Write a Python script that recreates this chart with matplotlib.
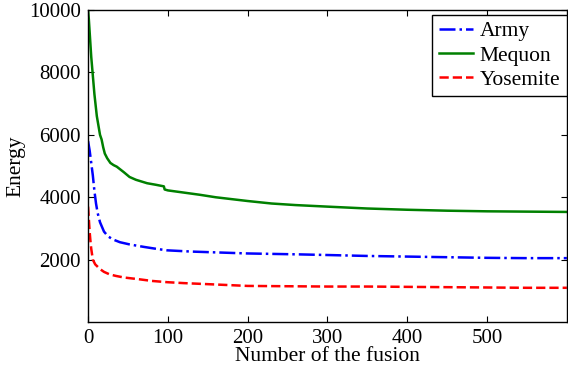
import numpy as np
import matplotlib.pyplot as plt

plt.rcParams['font.family'] = ['Liberation Serif', 'DejaVu Serif']

# fusion index vs energy
army_x = [0, 2, 4, 6, 8, 10, 12, 15, 20, 25, 31, 40, 52, 70, 85, 99, 130, 165, 200, 265, 300, 350, 400, 450, 500, 550, 600]
army_y = [5800, 5500, 5100, 4700, 4200, 3800, 3500, 3200, 2900, 2750, 2650, 2560, 2490, 2410, 2350, 2300, 2260, 2230, 2200, 2170, 2150, 2120, 2100, 2080, 2060, 2050, 2050]

mequon_x = [0, 1, 2, 3, 4, 5, 6, 8, 11, 13, 15, 17, 19, 21, 24, 28, 32, 36, 40, 45, 52, 60, 74, 85, 95, 96, 100, 120, 140, 160, 180, 200, 230, 260, 300, 350, 400, 450, 500, 550, 600]
mequon_y = [10000, 9700, 9300, 8900, 8500, 8200, 7900, 7300, 6600, 6300, 6000, 5850, 5600, 5400, 5250, 5100, 5030, 4980, 4900, 4800, 4650, 4560, 4450, 4400, 4350, 4250, 4220, 4150, 4080, 4000, 3940, 3880, 3800, 3750, 3700, 3640, 3600, 3570, 3550, 3540, 3530]

yosemite_x = [0, 1, 2, 3, 4, 6, 9, 15, 20, 27, 35, 45, 65, 80, 99, 120, 156, 200, 250, 300, 350, 400, 450, 500, 550, 600]
yosemite_y = [3700, 3300, 2900, 2600, 2350, 2000, 1850, 1700, 1610, 1530, 1480, 1430, 1370, 1320, 1280, 1250, 1210, 1160, 1150, 1140, 1140, 1130, 1120, 1110, 1100, 1100]

fig = plt.figure(figsize=(5.68, 3.69), dpi=100)
ax = fig.add_axes([0.155, 0.127, 0.843, 0.846])

ax.plot(army_x, army_y, '-.', color='blue', lw=1.8, label='Army')
ax.plot(mequon_x, mequon_y, '-', color='green', lw=1.8, label='Mequon')
ax.plot(yosemite_x, yosemite_y, '--', color='red', lw=1.8, label='Yosemite')

ax.set_xlim(0, 600)
ax.set_ylim(0, 10000)
ax.set_xticks([0, 100, 200, 300, 400, 500])
ax.set_yticks([2000, 4000, 6000, 8000, 10000])
ax.tick_params(direction='in', top=True, right=True, labelsize=15, length=4, pad=5)
ax.set_xlabel('Number of the fusion', fontsize=15.5, labelpad=-1)
ax.set_ylabel('Energy', fontsize=15.5)
ax.yaxis.set_label_coords(-0.13, 0.5)
for s in ax.spines.values():
    s.set_linewidth(1.0)

leg = ax.legend(loc='upper right', bbox_to_anchor=(1.0, 0.985), fontsize=15.5, fancybox=False,
                edgecolor='black', framealpha=1, handlelength=1.6, handletextpad=0.3,
                borderpad=0.3, labelspacing=0.2, borderaxespad=0.0)
leg.get_frame().set_linewidth(1.0)

fig.savefig('out.png', dpi=100)
